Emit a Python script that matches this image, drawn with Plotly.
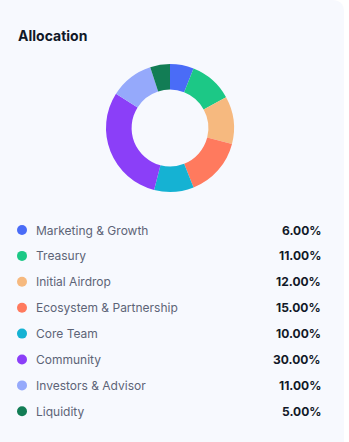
import plotly.graph_objects as go

categories = ["Marketing & Growth", "Treasury", "Initial Airdrop", "Ecosystem & Partnership",
              "Core Team", "Community", "Investors & Advisor", "Liquidity"]
values = [6, 11, 12, 15, 10, 30, 11, 5]
colors = ["#4a6cf7", "#1cc886", "#f6b97f", "#ff7a5e", "#15b2d3", "#8b3ff8", "#95a9fb", "#127d55"]
title = "Allocation"

W, H = 349, 442
BG = "#f7f9fe"

fig = go.Figure()

fig.add_trace(go.Pie(
    labels=categories, values=values, sort=False, direction="clockwise", rotation=0,
    hole=0.6, marker=dict(colors=colors, line=dict(color="rgba(0,0,0,0)", width=0)),
    textinfo="none", hoverinfo="label+percent", showlegend=False,
    domain=dict(x=[106 / W, 234 / W], y=[1 - 192 / H, 1 - 64 / H]),
))

row0, step = 230, 25.9
rows_y = [row0 + i * step for i in range(len(categories))]

fig.add_trace(go.Scatter(
    x=[22] * len(categories), y=rows_y, mode="markers",
    marker=dict(size=10, color=colors, line=dict(width=0)),
    hoverinfo="skip", showlegend=False, xaxis="x", yaxis="y",
))

annotations = [dict(x=16, y=35, xref="x", yref="y", text="<b>" + title + "</b>", showarrow=False,
                    xanchor="left", yanchor="middle",
                    font=dict(family="Inter", size=14, color="#111827"))]
for cat, val, yy in zip(categories, values, rows_y):
    annotations.append(dict(x=34, y=yy, xref="x", yref="y", text=cat, showarrow=False,
                            xanchor="left", yanchor="middle",
                            font=dict(family="Inter", size=12, color="#5d6477")))
    annotations.append(dict(x=323, y=yy, xref="x", yref="y", text="<b>%.2f%%</b>" % val,
                            showarrow=False, xanchor="right", yanchor="middle",
                            font=dict(family="Inter", size=12, color="#111827")))

r = 12
card_path = (f"M 0 0 L {344 - r} 0 Q 344 0 344 {r} L 344 {H} L 0 {H} Z")

fig.update_layout(
    width=W, height=H, margin=dict(l=0, r=0, t=0, b=0),
    paper_bgcolor="white", plot_bgcolor="rgba(0,0,0,0)",
    xaxis=dict(range=[0, W], visible=False, fixedrange=True),
    yaxis=dict(range=[H, 0], visible=False, fixedrange=True),
    annotations=annotations,
    shapes=[dict(type="path", path=card_path, xref="x", yref="y",
                 fillcolor=BG, line=dict(width=0), layer="below")],
)

fig.write_html("out.html")
